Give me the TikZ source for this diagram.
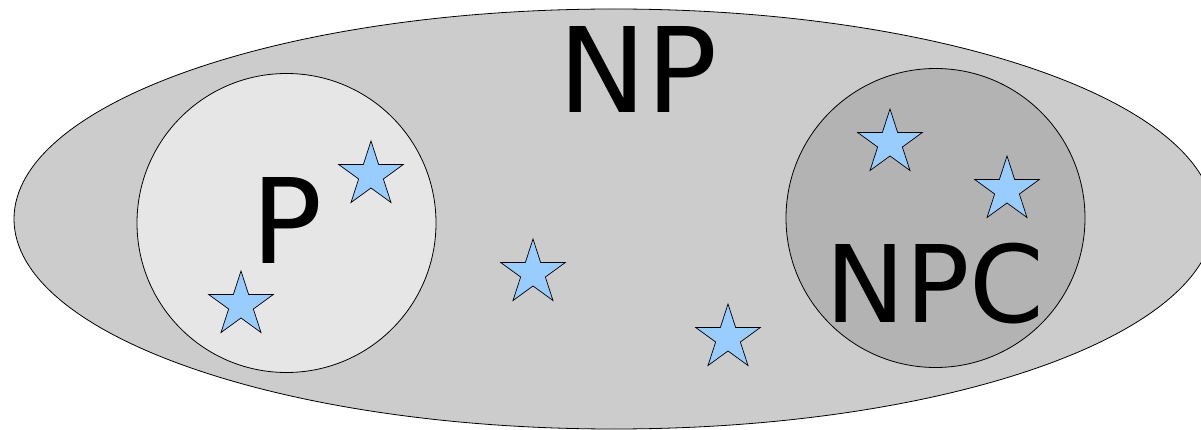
\documentclass[tikz,border=0pt]{standalone}
\usepackage{fontspec}
\setmainfont{DejaVu Sans}
\usetikzlibrary{shapes.geometric}

\definecolor{npgray}{HTML}{CCCCCC}
\definecolor{pgray}{HTML}{E6E6E6}
\definecolor{npcgray}{HTML}{B3B3B3}
\definecolor{starblue}{HTML}{99CCFF}

\tikzset{
  setline/.style={draw=black, line width=0.8pt},
  starmark/.style={star, star points=5, star point ratio=2.618,
    minimum size=68pt, inner sep=0pt, fill=starblue, draw=black, line width=0.7pt},
  biglabel/.style={anchor=base, inner sep=0pt, font=\fontsize{118}{118}\selectfont},
}

\begin{document}
\begin{tikzpicture}[x=1pt, y=-1pt]
  % 画布范围（与参考图 1201x430 像素一致）
  \useasboundingbox (0,0) rectangle (1201,430);

  % NP 大椭圆：中心 (614,219)，右侧超出画布
  \fill[npgray] (614,219) ellipse [x radius=600, y radius=210];
  \draw[setline] (614,219) ellipse [x radius=600, y radius=210];

  % P 圆：左侧
  \draw[setline, fill=pgray] (286.5,223) circle (149.5);

  % NPC 圆：右侧
  \draw[setline, fill=npcgray] (935.5,218) circle (149.5);

  % 文字标签
  \node[biglabel] (np) at (638,112.7) {NP};
  \node[biglabel] (p) at (287,264) {P};
  \node[biglabel, font=\fontsize{107}{107}\selectfont] (npc) at (935,322.7) {NPC};

  % 星形：P 内两个，中间两个，NPC 内两个
  \node[starmark] (s1) at (371,175) {};
  \node[starmark] (s2) at (241,305) {};
  \node[starmark] (s3) at (533,273) {};
  \node[starmark] (s4) at (728,338) {};
  \node[starmark] (s5) at (890,143) {};
  \node[starmark] (s6) at (1007,190) {};

\end{tikzpicture}
\end{document}
